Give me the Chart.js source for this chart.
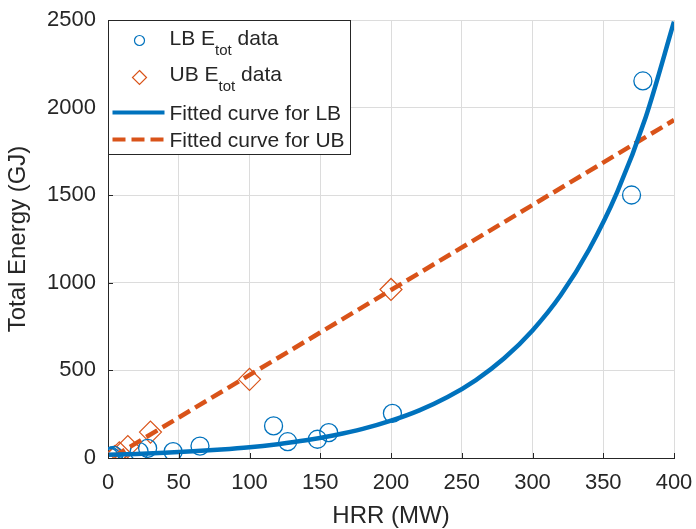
<!DOCTYPE html>
<html>
<head>
<meta charset="utf-8">
<script src="https://cdn.jsdelivr.net/npm/chart.js@4"></script>
<style>
  html, body { margin: 0; padding: 0; background: #fff; }
  #wrap { width: 696px; height: 529px; }
</style>
</head>
<body>
<div id="wrap"><canvas id="mainChart" width="696" height="529"></canvas></div>
<script>
// values
const lbX = [1, 2, 3, 4, 22, 28, 46, 65, 117, 127, 148, 156, 201, 370, 378];
const lbY = [5, 10, 2, 15, 36, 55, 36, 68, 183, 93, 107, 145, 255, 1501, 2152];

const ubX = [5, 8, 14, 30, 100, 200];
const ubY = [10, 30, 65, 148, 449, 962];

const fitLbX = [0, 20, 40, 60, 80, 100, 120, 140, 160, 180, 200, 220, 240, 260, 280, 300, 320, 340, 360, 380, 400];
const fitLbY = [18, 23, 30, 38, 48, 61, 79, 101, 130, 166, 213, 272, 348, 445, 569, 728, 930, 1190, 1520, 1945, 2490];

const fitUbX = [4, 400];
const fitUbY = [8, 1929];

const xTicks = [0, 50, 100, 150, 200, 250, 300, 350, 400];
const yTicks = [0, 500, 1000, 1500, 2000, 2500];

const legendLabels = ['LB E', 'UB E', 'Fitted curve for LB', 'Fitted curve for UB'];

const BLUE = '#0072BD';
const ORANGE = '#D95319';
const INK = '#262626';
const FONT = '"Liberation Sans", Arial, sans-serif';

const pts = (xs, ys) => xs.map((x, i) => ({ x: x, y: ys[i] }));

// inward tick marks + boxed legend drawn inside the axes (MATLAB look)
const matlabDecor = {
    id: 'matlabDecor',
    afterDraw(chart) {
        const ctx = chart.ctx;
        const area = chart.chartArea;
        const xs = chart.scales.x, ys = chart.scales.y;
        ctx.save();
        ctx.strokeStyle = INK;
        ctx.lineWidth = 1;
        ctx.beginPath();
        xTicks.forEach(v => {
            const px = Math.round(xs.getPixelForValue(v)) + 0.5;
            ctx.moveTo(px, area.bottom);
            ctx.lineTo(px, area.bottom - 5);
        });
        yTicks.forEach(v => {
            const py = Math.round(ys.getPixelForValue(v)) + 0.5;
            ctx.moveTo(area.left, py);
            ctx.lineTo(area.left + 5, py);
        });
        ctx.stroke();

        // legend box
        const bx = area.left + 0.5, by = area.top + 0.5, bw = 242, bh = 134;
        ctx.fillStyle = '#fff';
        ctx.fillRect(bx, by, bw, bh);
        ctx.strokeStyle = INK;
        ctx.strokeRect(bx, by, bw, bh);

        const textX = bx + 61;
        const rows = [by + 19, by + 55, by + 92, by + 119];
        ctx.textBaseline = 'middle';
        ctx.textAlign = 'left';
        ctx.fillStyle = INK;

        // row 1: circle
        ctx.strokeStyle = BLUE;
        ctx.lineWidth = 1.2;
        ctx.beginPath();
        ctx.arc(bx + 31, rows[0] + 1, 5, 0, Math.PI * 2);
        ctx.stroke();
        // row 2: diamond
        ctx.strokeStyle = ORANGE;
        ctx.beginPath();
        const dx = bx + 31, dy = rows[1] + 2;
        ctx.moveTo(dx, dy - 7); ctx.lineTo(dx + 7, dy); ctx.lineTo(dx, dy + 7); ctx.lineTo(dx - 7, dy); ctx.closePath();
        ctx.stroke();
        // row 3: solid line
        ctx.strokeStyle = BLUE;
        ctx.lineWidth = 4;
        ctx.beginPath();
        ctx.moveTo(bx + 4, rows[2]); ctx.lineTo(bx + 56, rows[2]);
        ctx.stroke();
        // row 4: dashed line
        ctx.strokeStyle = ORANGE;
        ctx.setLineDash([13, 6]);
        ctx.beginPath();
        ctx.moveTo(bx + 4, rows[3]); ctx.lineTo(bx + 56, rows[3]);
        ctx.stroke();
        ctx.setLineDash([]);

        ctx.fillStyle = INK;
        [0, 1].forEach(i => {
            ctx.font = '21px ' + FONT;
            ctx.fillText(legendLabels[i], textX, rows[i]);
            let w = ctx.measureText(legendLabels[i]).width;
            ctx.font = '15px ' + FONT;
            ctx.fillText('tot', textX + w, rows[i] + 11);
            const w2 = ctx.measureText('tot').width;
            ctx.font = '21px ' + FONT;
            ctx.fillText(' data', textX + w + w2, rows[i]);
        });
        ctx.font = '21px ' + FONT;
        ctx.fillText(legendLabels[2], textX, rows[2] + 2);
        ctx.fillText(legendLabels[3], textX, rows[3] + 2);
        ctx.restore();
    }
};

new Chart(document.getElementById('mainChart').getContext('2d'), {
    type: 'scatter',
    data: {
        datasets: [
            {
                label: 'Fitted curve for LB',
                data: pts(fitLbX, fitLbY),
                showLine: true,
                borderColor: BLUE,
                borderWidth: 4.5,
                pointRadius: 0,
                cubicInterpolationMode: 'monotone',
                order: 0
            },
            {
                label: 'Fitted curve for UB',
                data: pts(fitUbX, fitUbY),
                showLine: true,
                borderColor: ORANGE,
                borderWidth: 4.5,
                borderDash: [13, 6],
                pointRadius: 0,
                order: 0
            },
            {
                label: 'LB Etot data',
                data: pts(lbX, lbY),
                pointStyle: 'circle',
                pointRadius: 9,
                borderColor: BLUE,
                backgroundColor: 'rgba(0,0,0,0)',
                borderWidth: 1.3,
                order: 1
            },
            {
                label: 'UB Etot data',
                data: pts(ubX, ubY),
                pointStyle: 'rectRot',
                pointRadius: 11,
                borderColor: ORANGE,
                backgroundColor: 'rgba(0,0,0,0)',
                borderWidth: 1.2,
                order: 1
            }
        ]
    },
    options: {
        responsive: false,
        animation: false,
        layout: { padding: { top: 20, right: 22, left: 0, bottom: 0 } },
        plugins: { legend: { display: false }, tooltip: { enabled: false } },
        scales: {
            x: {
                type: 'linear',
                min: 0,
                max: 400,
                afterBuildTicks: s => { s.ticks = xTicks.map(v => ({ value: v })); },
                afterFit: s => { s.height = 71; s.paddingLeft = 0; s.paddingRight = 0; },
                grid: { color: '#dcdcdc', drawTicks: false },
                border: { display: true, color: INK, width: 1 },
                ticks: { color: INK, padding: 12, font: { size: 22, family: FONT }, callback: v => String(v) },
                title: { display: true, text: 'HRR (MW)', color: INK, padding: { top: 0, bottom: 1 }, font: { size: 24, family: FONT, lineHeight: 1 } }
            },
            y: {
                type: 'linear',
                min: 0,
                max: 2500,
                afterBuildTicks: s => { s.ticks = yTicks.map(v => ({ value: v })); },
                afterFit: s => { s.width = 108; s.paddingTop = 0; s.paddingBottom = 0; },
                grid: { color: '#dcdcdc', drawTicks: false },
                border: { display: true, color: INK, width: 1 },
                ticks: { color: INK, padding: 12, font: { size: 22, family: FONT }, callback: v => String(v) },
                title: { display: true, text: 'Total Energy (GJ)', color: INK, padding: { top: 4, bottom: 0 }, font: { size: 24, family: FONT } }
            }
        }
    },
    plugins: [matlabDecor]
});
</script>
</body>
</html>
